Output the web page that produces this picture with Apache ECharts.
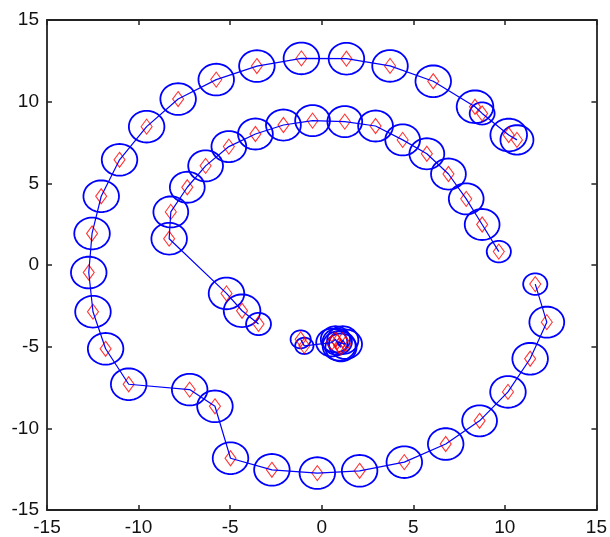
<!DOCTYPE html>
<html>
<head>
<meta charset="utf-8">
<style>
html,body{margin:0;padding:0;background:#fff;}
#chart{width:610px;height:537px;}
</style>
<script src="https://cdn.jsdelivr.net/npm/echarts@6/dist/echarts.min.js"></script>
</head>
<body>
<div id="chart"></div>
<script>
// Tick labels
var tickValues = [-15, -10, -5, 0, 5, 10, 15];

// Outer spiral path
var outerX = [11.66, 12.29, 11.38, 10.17, 8.62, 6.77, 4.51, 2.07, -0.24, -2.72, -4.98, -5.83, -7.21, -10.54, -11.80, -12.49, -12.72, -12.54, -12.04, -11.04, -9.56, -7.84, -5.76, -3.54, -1.11, 1.35, 3.73, 6.09, 8.37, 8.76, 10.21, 10.66];
var outerY = [-1.17, -3.50, -5.74, -7.77, -9.54, -10.96, -12.07, -12.60, -12.74, -12.54, -11.83, -8.65, -7.63, -7.30, -5.13, -2.86, -0.46, 1.93, 4.21, 6.44, 8.47, 10.16, 11.35, 12.18, 12.65, 12.63, 12.19, 11.25, 9.69, 9.28, 7.96, 7.66];
var outerR = [0.66, 0.95, 0.97, 0.97, 0.95, 0.97, 0.97, 0.97, 0.97, 0.97, 0.97, 0.97, 0.97, 0.97, 0.97, 0.97, 0.97, 0.97, 0.97, 0.97, 0.97, 0.97, 0.97, 0.97, 0.97, 0.97, 0.97, 0.97, 1.0, 0.68, 1.0, 0.9];

// Inner spiral path
var innerX = [9.67, 8.76, 7.89, 6.92, 5.74, 4.42, 2.94, 1.26, -0.50, -2.09, -3.62, -5.07, -6.34, -7.34, -8.24, -8.33, -5.20, -4.35, -3.45];
var innerY = [0.82, 2.48, 4.05, 5.57, 6.81, 7.66, 8.51, 8.78, 8.84, 8.57, 8.02, 7.25, 6.07, 4.76, 3.25, 1.61, -1.74, -2.80, -3.61];
var innerR = [0.66, 0.95, 0.95, 0.95, 0.95, 0.95, 0.95, 0.95, 0.95, 0.95, 0.95, 0.95, 0.95, 0.95, 0.95, 0.97, 0.97, 1.0, 0.68];

// Central cluster
var clusterX = [-1.15, -0.95, 0.55, 0.75, 0.95, 1.15, 1.30, 0.85, 1.05];
var clusterY = [-4.55, -4.95, -4.75, -4.55, -4.95, -4.60, -4.85, -4.70, -5.05];
var clusterR = [0.55, 0.50, 0.85, 0.80, 0.90, 0.85, 0.90, 0.80, 0.85];

function pairs(xs, ys) { return xs.map(function (x, i) { return [x, ys[i]]; }); }
function triples(xs, ys, rs) { return xs.map(function (x, i) { return [x, ys[i], rs[i]]; }); }

var allPts = pairs(outerX, outerY).concat(pairs(innerX, innerY), pairs(clusterX, clusterY));
var allCircles = triples(outerX, outerY, outerR).concat(triples(innerX, innerY, innerR), triples(clusterX, clusterY, clusterR));

function renderEllipse(params, api) {
  var cx = api.value(0), cy = api.value(1), r = api.value(2);
  var pts = [];
  var n = 60;
  for (var i = 0; i < n; i++) {
    var t = 2 * Math.PI * i / n;
    pts.push(api.coord([cx + r * Math.cos(t), cy + r * Math.sin(t)]));
  }
  return {
    type: 'polygon',
    shape: { points: pts },
    style: { fill: 'none', stroke: '#0000ff', lineWidth: 1.8 }
  };
}

var axisColor = '#222';
var labelStyle = { fontSize: 19, color: '#111', fontFamily: 'Liberation Sans, Arial, sans-serif' };

function mkAxis(pos, showLabel) {
  return {
    type: 'value', min: -15, max: 15, interval: 5, position: pos,
    axisLine: { show: true, onZero: false, lineStyle: { color: axisColor, width: 1.8 } },
    axisTick: { show: true, inside: true, length: 5, lineStyle: { color: axisColor, width: 1.5 } },
    axisLabel: Object.assign({ show: showLabel, margin: 8 }, labelStyle),
    splitLine: { show: false }
  };
}

var chart = echarts.init(document.getElementById('chart'), null, { renderer: 'canvas' });
chart.setOption({
  animation: false,
  backgroundColor: '#fff',
  grid: { left: 47, right: 10, top: 20, bottom: 25, containLabel: false },
  xAxis: [mkAxis('bottom', true), mkAxis('top', false)],
  yAxis: [mkAxis('left', true), mkAxis('right', false)],
  series: [
    {
      type: 'custom', xAxisIndex: 0, yAxisIndex: 0,
      renderItem: renderEllipse, data: allCircles, z: 1, silent: true
    },
    {
      type: 'scatter', xAxisIndex: 0, yAxisIndex: 0,
      symbol: 'diamond', symbolSize: [11, 15],
      itemStyle: { color: 'rgba(0,0,0,0)', borderColor: '#ff0000', borderWidth: 1.1 },
      data: allPts, z: 2, silent: true
    },
    {
      type: 'line', xAxisIndex: 0, yAxisIndex: 0, showSymbol: false,
      lineStyle: { color: '#0000ff', width: 1.2 }, data: pairs(outerX, outerY), z: 3
    },
    {
      type: 'line', xAxisIndex: 0, yAxisIndex: 0, showSymbol: false,
      lineStyle: { color: '#0000ff', width: 1.2 }, data: pairs(innerX, innerY), z: 3
    },
    {
      type: 'line', xAxisIndex: 0, yAxisIndex: 0, showSymbol: false,
      lineStyle: { color: '#0000ff', width: 1.2 }, data: pairs(clusterX, clusterY), z: 3
    }
  ]
});
</script>
</body>
</html>
